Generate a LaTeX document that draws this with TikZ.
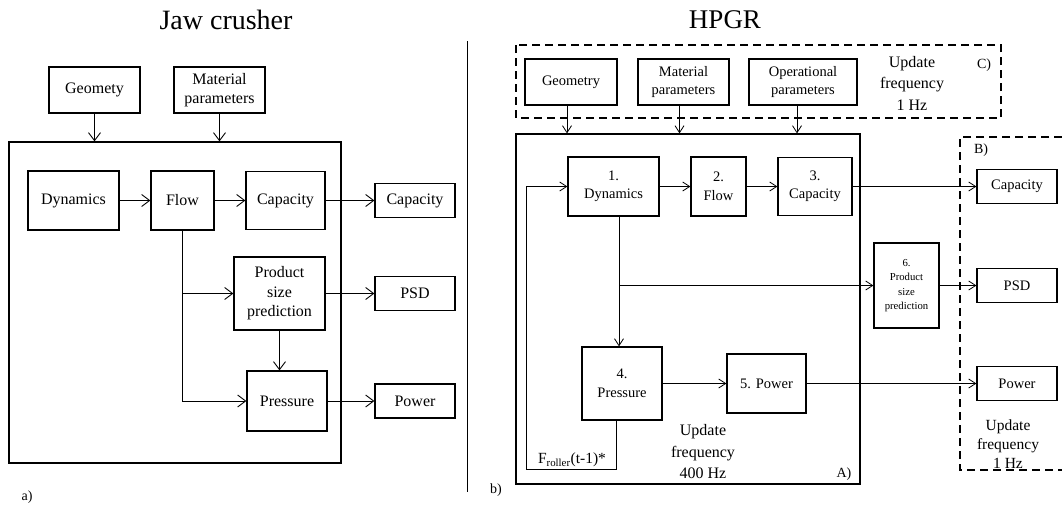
\documentclass[tikz,border=0pt]{standalone}
\usepackage{fontspec}
\setmainfont{Liberation Serif}
\usetikzlibrary{arrows.meta}

\begin{document}
\begin{tikzpicture}[x=1pt,y=-1pt,
  blk/.style={draw,line width=1.2pt,align=center,inner sep=1pt,font=\fontsize{16}{19.5}\selectfont},
  blks/.style={blk,font=\fontsize{14.5}{18.5}\selectfont},
  con/.style={line width=0.9pt,-{Straight Barb[length=8pt,width=12pt]}},
  cons/.style={line width=0.8pt,-{Straight Barb[length=7pt,width=9pt]}},
  zone/.style={line width=1.3pt,dash pattern=on 8pt off 5pt},
  lbl/.style={align=center,font=\fontsize{16}{21.5}\selectfont},
  tag/.style={font=\fontsize{14}{16}\selectfont},
  ttl/.style={font=\fontsize{27}{30}\selectfont}]
  \useasboundingbox (0,0) rectangle (1062,509);

  % a) jaw crusher
  \node[ttl,font=\fontsize{28}{30}\selectfont] (jawtitle) at (226,20) {Jaw crusher};
  \node[blk,minimum width=91,minimum height=46] (geo) at (94.5,90) {Geomety};
  \node[blk,minimum width=91,minimum height=46] (mat) at (219.5,90) {Material\\parameters};
  \node[draw,line width=1.2pt,minimum width=332,minimum height=321] (jaw) at (175,302.5) {};
  \node[blk,minimum width=91,minimum height=59] (dyn) at (73.5,200.5) {Dynamics};
  \node[blk,minimum width=63,minimum height=59] (flow) at (182.5,200.5) {Flow};
  \node[blk,minimum width=79,minimum height=58] (cap) at (285.5,200.5) {Capacity};
  \node[blk,minimum width=91,minimum height=73] (psp) at (279.5,293.5) {Product\\size\\prediction};
  \node[blk,minimum width=80,minimum height=60] (pres) at (287,401) {Pressure};
  \node[blk,minimum width=80,minimum height=34] (capout) at (415,200.5) {Capacity};
  \node[blk,minimum width=80,minimum height=34] (psd) at (415,293.5) {PSD};
  \node[blk,minimum width=80,minimum height=34] (pow) at (415,401) {Power};
  \node[tag] (lbla) at (27,497) {a)};

  \draw[con] (geo) -- (geo |- jaw.north);
  \draw[con] (mat) -- (mat |- jaw.north);
  \draw[con] (dyn) -- (flow);
  \draw[con] (flow) -- (cap);
  \draw[con] (cap) -- (capout);
  \draw[con] (psp) -- (psd);
  \draw[con] (pres) -- (pow);
  \draw[con] (psp.south) -- (psp.south |- pres.north);
  \draw[con] (flow.south) |- (pres.west);
  \draw[con] (flow.south |- psp.west) -- (psp.west);

  % separator
  \coordinate (septop) at (467,41);
  \coordinate (sepbot) at (467,492);
  \draw[line width=1pt] (septop) -- (sepbot);

  % b) HPGR
  \node[ttl] (hpgrtitle) at (725,20) {HPGR};
  \draw[zone] (516,45) rectangle (1001,118);
  \node[blks,minimum width=92,minimum height=46] (geo2) at (571,82) {Geometry};
  \node[blks,minimum width=91,minimum height=46] (mat2) at (683.5,82) {Material\\parameters};
  \node[blks,minimum width=108,minimum height=46] (op2) at (803,82) {Operational\\parameters};
  \node[lbl] (upC) at (912,83) {Update\\frequency\\1 Hz};
  \node[tag] (lblC) at (984,65) {C)};

  \node[draw,line width=1.2pt,minimum width=344,minimum height=350] (hpgr) at (688,309) {};
  \node[blks,minimum width=91,minimum height=59] (dyn2) at (613.5,186.5) {1.\\Dynamics};
  \node[blks,minimum width=55,minimum height=59] (flow2) at (718.5,186.5) {2.\\Flow};
  \node[blks,minimum width=74,minimum height=58] (cap2) at (815,186.5) {3.\\Capacity};
  \node[blk,minimum width=65,minimum height=85,font=\fontsize{10.7}{14.5}\selectfont] (psp2) at (906.5,285.5) {6.\\Product\\size\\prediction};
  \node[blks,minimum width=80,minimum height=73] (pres2) at (622,383.5) {4.\\Pressure};
  \node[blks,minimum width=79,minimum height=59] (pow2) at (766.5,383.5) {5. Power};
  \node[lbl] (upA) at (703,452) {Update\\frequency\\400 Hz};
  \node[tag] (lblA) at (844,474) {A)};
  \node[font=\fontsize{15.5}{18}\selectfont] (froll) at (572,460) {F\textsubscript{roller}(t-1)*};

  \draw[zone] (1075,137) -- (960,137) -- (960,470) -- (1075,470);
  \node[tag] (lblB) at (981,150) {B)};
  \node[blks,minimum width=80,minimum height=34] (capB) at (1017,186.5) {Capacity};
  \node[blks,minimum width=80,minimum height=34] (psdB) at (1017,285.5) {PSD};
  \node[blks,minimum width=80,minimum height=34] (powB) at (1017,383.5) {Power};
  \node[lbl,font=\fontsize{15.5}{19}\selectfont] (upB) at (1008,444) {Update\\frequency\\1 Hz};
  \node[tag] (lblb) at (496,490) {b)};

  \draw[cons] ([xshift=-4pt]geo2.south) -- ([xshift=-4pt]geo2.south |- hpgr.north);
  \draw[cons] ([xshift=-4pt]mat2.south) -- ([xshift=-4pt]mat2.south |- hpgr.north);
  \draw[cons] ([xshift=-6pt]op2.south) -- ([xshift=-6pt]op2.south |- hpgr.north);
  \draw[cons] (dyn2) -- (flow2);
  \draw[cons] (flow2) -- (cap2);
  \draw[cons] (cap2) -- (capB);
  \coordinate (dsplit) at (619,285.5);
  \draw[cons] (dyn2.south -| dsplit) -- (dsplit |- pres2.north);
  \draw[cons] (dsplit) -- (psp2.west);
  \draw[cons] (psp2) -- (psdB);
  \draw[cons] (pres2) -- (pow2);
  \draw[cons] (pow2) -- (powB);
  \coordinate (fb) at (526,469);
  \draw[cons] ([xshift=-6pt]pres2.south) |- (fb) |- (dyn2.west);
\end{tikzpicture}
\end{document}
